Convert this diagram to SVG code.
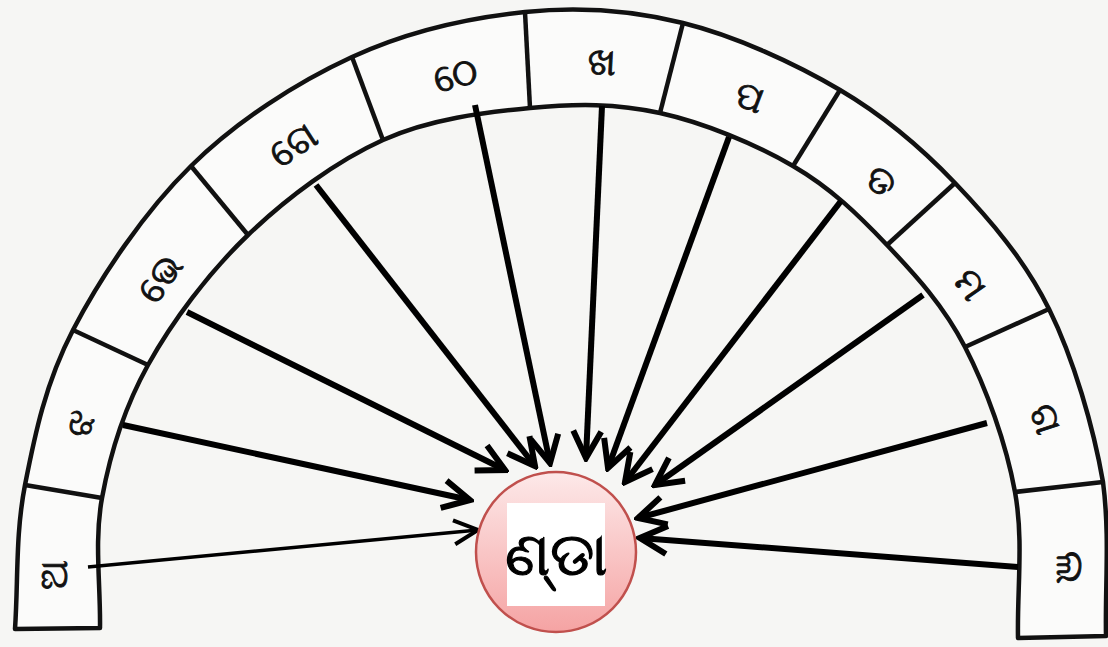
<svg xmlns="http://www.w3.org/2000/svg" width="1108" height="647" viewBox="0 0 1108 647">
<style>
.ring{fill:#fbfbfa;stroke:#111;stroke-width:4.5;stroke-linejoin:round}
.div{stroke:#111;stroke-width:4.5;stroke-linecap:butt}
.lbl{font-family:"Noto Sans","DejaVu Sans",sans-serif;font-size:38px;fill:#111;stroke:#111;stroke-width:0.9;text-anchor:middle;dominant-baseline:central}
.arr{stroke:#000;stroke-width:6;fill:none;marker-end:url(#ah)}
.thin{stroke-width:3.5;marker-end:url(#ahs)}
.ctr{font-family:"Noto Sans","DejaVu Sans",sans-serif;font-size:60px;fill:#000;stroke:#000;stroke-width:1.2;text-anchor:middle;dominant-baseline:central}
</style>
<defs>
<marker id="ah" markerUnits="userSpaceOnUse" viewBox="-32 -18 36 36" refX="0" refY="0" markerWidth="36" markerHeight="36" orient="auto">
<path d="M-27,-14 L0,0 L-27,14" fill="none" stroke="#000" stroke-width="6" stroke-linejoin="miter"/>
</marker>
<marker id="ahs" markerUnits="userSpaceOnUse" viewBox="-32 -18 36 36" refX="0" refY="0" markerWidth="36" markerHeight="36" orient="auto">
<path d="M-24,-12 L0,0 L-24,12" fill="none" stroke="#000" stroke-width="4" stroke-linejoin="miter"/>
</marker>
<linearGradient id="pk" x1="0" y1="0" x2="0" y2="1">
<stop offset="0" stop-color="#fde9e9"/>
<stop offset="1" stop-color="#f5a3a3"/>
</linearGradient>
</defs>
<rect width="1108" height="647" fill="#f6f6f4"/>
<g id="ring">
<path class="ring" d="M15,629 C18.3,581 15.3,534.8 25,485 C34.7,435.2 45.3,383.2 73,330 C100.7,276.8 144.5,211.5 191,166 C237.5,120.5 296.3,82.7 352,57 C407.7,31.3 469.8,17.7 525,12 C580.2,6.3 630.5,10 683,23 C735.5,36 794.7,63.3 840,90 C885.3,116.7 920.2,146.5 955,183 C989.8,219.5 1024.3,259.2 1049,309 C1073.7,358.8 1093.5,427.5 1103,482 C1110,536.5 1105,584.7 1106,636 L1018,638 C1017,589.3 1023.8,540.5 1015,492 C1006.2,443.5 986.3,388.2 965,347 C943.7,305.8 915.7,275.2 887,245 C858.3,214.8 830.8,188 793,166 C755.2,144 703.8,122.7 660,113 C616.2,103.3 576.2,103.5 530,108 C483.8,112.5 430,118.8 383,140 C336,161.2 287.2,197.5 248,235 C208.8,272.5 172.3,321.2 148,365 C123.7,408.8 110,454.2 102,498 C94,541.8 100.7,584.7 100,628 Z"/>
<line class="div" x1="25" y1="485" x2="102" y2="498"/>
<line class="div" x1="73" y1="330" x2="148" y2="365"/>
<line class="div" x1="191" y1="166" x2="248" y2="235"/>
<line class="div" x1="352" y1="57" x2="383" y2="140"/>
<line class="div" x1="525" y1="12" x2="530" y2="108"/>
<line class="div" x1="683" y1="23" x2="660" y2="113"/>
<line class="div" x1="840" y1="90" x2="793" y2="166"/>
<line class="div" x1="955" y1="183" x2="887" y2="245"/>
<line class="div" x1="1049" y1="309" x2="965" y2="347"/>
<line class="div" x1="1103" y1="482" x2="1015" y2="492"/>
</g>
<g id="seg1"><text class="lbl" transform="translate(52,575) rotate(-90)">ଅ</text></g>
<g id="seg2"><text class="lbl" transform="translate(78,423) rotate(-72)">ଝ</text></g>
<g id="seg3"><text class="lbl" transform="translate(158,277) rotate(-54)">ଭେ</text></g>
<g id="seg4"><text class="lbl" transform="translate(292,143) rotate(-33)">ଗେ</text></g>
<g id="seg5"><text class="lbl" transform="translate(455,73) rotate(-13)">ଠେ</text></g>
<g id="seg6"><text class="lbl" transform="translate(602,60) rotate(3)">ଖ</text></g>
<g id="seg7"><text class="lbl" transform="translate(750,95) rotate(21)">ପ</text></g>
<g id="seg8"><text class="lbl" transform="translate(882,180) rotate(40)">ଡ</text></g>
<g id="seg9"><text class="lbl" transform="translate(972,283) rotate(55)">ମ</text></g>
<g id="seg10"><text class="lbl" transform="translate(1048,418) rotate(72)">ଗ</text></g>
<g id="seg11"><text class="lbl" transform="translate(1072,567) rotate(90)">ଲ</text></g>
<g id="connectors">
<line class="arr thin" x1="88" y1="567" x2="478" y2="530"/>
<line class="arr" x1="123" y1="425" x2="470" y2="500"/>
<line class="arr" x1="187" y1="312" x2="505" y2="470"/>
<line class="arr" x1="316" y1="185" x2="535" y2="466"/>
<line class="arr" x1="475" y1="105" x2="550" y2="463"/>
<line class="arr" x1="602" y1="106" x2="586" y2="458"/>
<line class="arr" x1="729" y1="137" x2="608" y2="468"/>
<line class="arr" x1="841" y1="201" x2="625" y2="482"/>
<line class="arr" x1="923" y1="295" x2="655" y2="485"/>
<line class="arr" x1="987" y1="423" x2="638" y2="518"/>
<line class="arr" x1="1018" y1="567" x2="640" y2="538"/>
</g>
<g id="center">
<circle cx="556" cy="552" r="80" fill="url(#pk)" stroke="#c0504d" stroke-width="2.5"/>
<rect x="507" y="503" width="98" height="103" fill="#ffffff"/>
<text class="ctr" x="556" y="552">ଣ୍ଡା</text>
</g>
</svg>
